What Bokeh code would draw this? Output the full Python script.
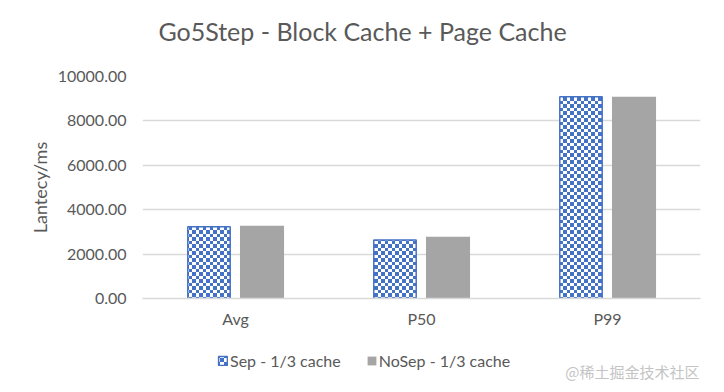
import base64
import struct
import zlib

from bokeh.plotting import figure
from bokeh.layouts import column
from bokeh.models import (FactorRange, Range1d, NumeralTickFormatter, Legend, LegendItem, Label,
                          ImageURLTexture, ColumnDataSource, FixedTicker)
from bokeh.core.properties import value
from bokeh.transform import dodge
from bokeh.embed import file_html
from bokeh.resources import INLINE

categories = ["Avg", "P50", "P99"]
sep_values = [3230, 2630, 9085]
nosep_values = [3275, 2780, 9085]
y_ticks = [0, 2000, 4000, 6000, 8000, 10000]
series_names = ["Sep - 1/3 cache", "NoSep - 1/3 cache"]
title_text = "Go5Step - Block Cache + Page Cache"
y_label = "Lantecy/ms"
watermark = "@稀土掘金技术社区"

TXT = "#595959"
FONT = "Lato"
BLUE_HEX = "#4472C4"
GREY_HEX = "#A5A5A5"
BLUE = (0x44, 0x72, 0xC4)
WHITE = (255, 255, 255)
FRAME_LEFT = 142  # strips share the main chart's frame alignment


def checker_png(n_small=3, n_big=4):
    size = n_small + n_big
    rows = []
    for y in range(size):
        row = bytearray([0])
        for x in range(size):
            c = BLUE if ((x < n_small) == (y < n_small)) else WHITE
            row += bytes(c)
        rows.append(bytes(row))
    raw = b"".join(rows)

    def chunk(tag, data):
        return (struct.pack(">I", len(data)) + tag + data +
                struct.pack(">I", zlib.crc32(tag + data) & 0xFFFFFFFF))

    png = b"\x89PNG\r\n\x1a\n"
    png += chunk(b"IHDR", struct.pack(">IIBBBBB", size, size, 8, 2, 0, 0, 0))
    png += chunk(b"IDAT", zlib.compress(raw))
    png += chunk(b"IEND", b"")
    return "data:image/png;base64," + base64.b64encode(png).decode()


def sep_style():
    return dict(fill_color="white", line_color=BLUE_HEX, line_width=1.5,
                hatch_pattern=value("checker"),
                hatch_extra={"checker": ImageURLTexture(url=checker_png(), repetition="repeat")})


def bare(height, x_range):
    f = figure(width=724, height=height, x_range=x_range, y_range=Range1d(0, 1),
               output_backend="svg", toolbar_location=None,
               x_axis_location=None, y_axis_location=None, min_border=0)
    f.outline_line_color = None
    f.grid.visible = False
    return f


src = ColumnDataSource(dict(cat=categories, sep=sep_values, nosep=nosep_values))

# ---- title strip ----
p_title = bare(66, Range1d(0, 1))
p_title.add_layout(Label(x=362 - FRAME_LEFT, y=36, x_units="screen", y_units="screen",
                         text=title_text, text_align="center", text_baseline="middle",
                         text_font=FONT, text_font_size="25px", text_color=TXT))

# ---- main chart ----
p = figure(width=724, height=274, x_range=FactorRange(*categories), y_range=Range1d(0, 10000),
           output_backend="svg", toolbar_location=None,
           min_border_left=142, min_border_right=24, min_border_top=10, min_border_bottom=42)
p.outline_line_color = None

r1 = p.vbar(x=dodge("cat", -0.1425, range=p.x_range), top="sep", width=0.228, source=src,
            **sep_style())
r2 = p.vbar(x=dodge("cat", 0.1425, range=p.x_range), top="nosep", width=0.237, source=src,
            fill_color=GREY_HEX, line_color=None)

p.yaxis.ticker = FixedTicker(ticks=y_ticks)
p.yaxis.formatter = NumeralTickFormatter(format="0.00")
p.yaxis.axis_line_color = None
p.yaxis.major_tick_line_color = None
p.yaxis.minor_tick_line_color = None
p.yaxis.major_tick_out = 0
p.yaxis.major_tick_in = 0
p.yaxis.major_label_standoff = 16
p.yaxis.major_label_text_font = FONT
p.yaxis.major_label_text_font_size = "16px"
p.yaxis.major_label_text_color = TXT
p.yaxis.axis_label = y_label
p.yaxis.axis_label_text_font = FONT
p.yaxis.axis_label_text_font_size = "18px"
p.yaxis.axis_label_text_font_style = "normal"
p.yaxis.axis_label_text_color = TXT
p.yaxis.axis_label_standoff = 4

p.xaxis.axis_line_color = "#d9d9d9"
p.xaxis.axis_line_width = 1.5
p.xaxis.major_tick_line_color = None
p.xaxis.minor_tick_line_color = None
p.xaxis.major_tick_out = 0
p.xaxis.major_tick_in = 0
p.xaxis.major_label_standoff = 10
p.xaxis.major_label_text_font = FONT
p.xaxis.major_label_text_font_size = "16px"
p.xaxis.major_label_text_color = TXT

p.xgrid.grid_line_color = None
p.ygrid.grid_line_color = "#d9d9d9"
p.ygrid.grid_line_width = 1.5

# ---- legend strip (hidden proxy renderers carry the swatch styles) ----
p_leg = bare(52, FactorRange(*categories))
l1 = p_leg.vbar(x="cat", top="sep", width=0.2, source=src, **sep_style())
l2 = p_leg.vbar(x="cat", top="nosep", width=0.2, source=src, fill_color=GREY_HEX, line_color=None)
l1.visible = False
l2.visible = False
legend = Legend(items=[LegendItem(label=series_names[0], renderers=[l1]),
                       LegendItem(label=series_names[1], renderers=[l2])],
                orientation="horizontal", location=(217 - FRAME_LEFT, 22.5), padding=0, margin=0,
                spacing=25, glyph_width=11, glyph_height=11, label_standoff=2,
                label_text_font=FONT, label_text_font_size="16px", label_text_color=TXT,
                inactive_fill_alpha=0,
                border_line_color=None, background_fill_alpha=0)
p_leg.add_layout(legend)
p_leg.add_layout(Label(x=699 - FRAME_LEFT, y=21, x_units="screen", y_units="screen",
                       text=watermark, text_align="right", text_baseline="middle",
                       text_font="Noto Sans CJK SC", text_font_size="15px",
                       text_color="#c4c4c4"))

layout = column(p_title, p, p_leg, spacing=0)
open("out.html", "w").write(file_html(layout, INLINE))
